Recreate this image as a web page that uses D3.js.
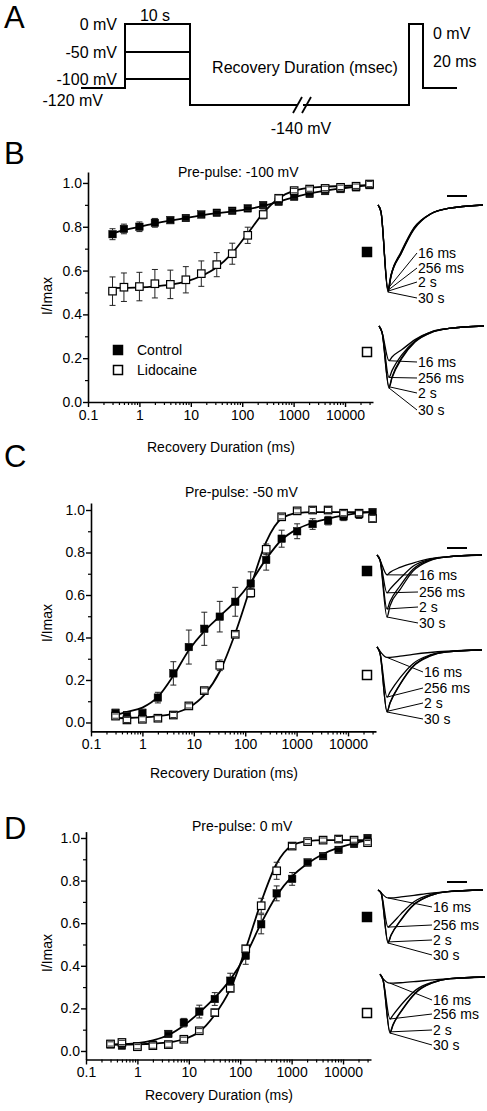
<!DOCTYPE html>
<html><head><meta charset="utf-8">
<script src="https://cdn.jsdelivr.net/npm/d3@7/dist/d3.min.js"></script>
<style>
body{margin:0;background:#fff}
svg text{font-family:"Liberation Sans",Arial,Helvetica,sans-serif;fill:#000}
</style>
</head><body>
<svg id="chart" width="487" height="1111"></svg>
<script>
// ---------------- DATA ----------------
const times = [0.3,0.5,1,2,4,8,16,32,64,128,256,512,1024,2048,4096,8192,16384,30000];
const xTickValues = [0.1,1,10,100,1000,10000];
const xTickLabels = ["0.1","1","10","100","1000","10000"];
const yTickValues = [0,0.2,0.4,0.6,0.8,1.0];
const yTickLabels = ["0.0","0.2","0.4","0.6","0.8","1.0"];
const seriesNames = ["Control","Lidocaine"];
const panelTitles = ["Pre-pulse: -100 mV","Pre-pulse: -50 mV","Pre-pulse: 0 mV"];
const xAxisTitle = "Recovery Duration (ms)";
const yAxisTitle = "I/Imax";

// Panel B (-100 mV)
const bControl    = [0.766,0.79,0.80,0.818,0.83,0.84,0.856,0.864,0.873,0.884,0.899,0.914,0.937,0.95,0.963,0.972,0.98,0.99];
const bControlErr = [0.025,0.022,0.022,0.02,0.015,0.012,0.012,0.01,0.01,0.01,0.01,0.01,0.01,0.01,0.01,0.01,0.01,0.01];
const bLido       = [0.506,0.524,0.527,0.54,0.537,0.558,0.586,0.627,0.677,0.761,0.856,0.93,0.965,0.972,0.975,0.98,0.985,0.995];
const bLidoErr    = [0.065,0.065,0.065,0.065,0.065,0.06,0.058,0.055,0.048,0.037,0.02,0.015,0.01,0.01,0.01,0.01,0.01,0.012];
const bControlFit = [0.77,0.785,0.80,0.815,0.828,0.84,0.852,0.862,0.87,0.88,0.895,0.915,0.935,0.952,0.965,0.975,0.983,0.99];
const bLidoFit    = [0.52,0.521,0.523,0.528,0.536,0.55,0.575,0.615,0.68,0.77,0.862,0.93,0.965,0.978,0.983,0.986,0.988,0.99];

// Panel C (-50 mV)
const cControl    = [0.046,0.035,0.046,0.117,0.231,0.355,0.441,0.498,0.568,0.654,0.765,0.865,0.9,0.934,0.95,0.97,0.98,0.99];
const cControlErr = [0.015,0.012,0.015,0.025,0.055,0.08,0.078,0.072,0.068,0.055,0.048,0.04,0.035,0.025,0.02,0.02,0.02,0.015];
const cLido       = [0.03,0.012,0.015,0.02,0.035,0.078,0.15,0.269,0.415,0.61,0.815,0.968,0.996,1.0,1.0,0.985,0.985,0.96];
const cLidoErr    = [0.01,0.012,0.012,0.012,0.012,0.01,0.012,0.025,0.012,0.02,0.025,0.01,0.01,0.012,0.012,0.012,0.012,0.015];
const cControlFit = [0.035,0.05,0.07,0.12,0.22,0.34,0.43,0.5,0.57,0.66,0.77,0.86,0.91,0.94,0.96,0.975,0.985,0.99];
const cLidoFit    = [0.02,0.021,0.024,0.03,0.042,0.07,0.13,0.24,0.42,0.64,0.85,0.96,0.985,0.99,0.99,0.99,0.99,0.99];

// Panel D (0 mV)
const dControl    = [0.031,0.025,0.022,0.03,0.08,0.133,0.185,0.244,0.33,0.447,0.595,0.74,0.808,0.885,0.915,0.944,0.972,1.0];
const dControlErr = [0.01,0.01,0.01,0.01,0.01,0.02,0.03,0.03,0.035,0.04,0.045,0.035,0.03,0.015,0.012,0.012,0.01,0.01];
const dLido       = [0.033,0.04,0.02,0.025,0.03,0.055,0.095,0.18,0.294,0.48,0.682,0.846,0.962,0.983,0.99,0.995,0.99,0.978];
const dLidoErr    = [0.01,0.01,0.01,0.012,0.012,0.01,0.01,0.015,0.015,0.015,0.035,0.04,0.012,0.01,0.01,0.012,0.01,0.01];
const dControlFit = [0.03,0.032,0.037,0.05,0.075,0.12,0.18,0.25,0.335,0.45,0.6,0.73,0.82,0.88,0.925,0.955,0.975,0.99];
const dLidoFit    = [0.03,0.03,0.031,0.034,0.04,0.055,0.09,0.17,0.29,0.48,0.7,0.88,0.965,0.985,0.99,0.99,0.99,0.99];

// Current trace insets (relative current, time in ms)
const traceLabels = ["16 ms","256 ms","2 s","30 s"];
const traceTimes = [0,0.3,1.0,1.3,2.3,3.6,5.3,7.0,10.5];
const bCtrlTraces = [
 [0,-0.08,-0.96,-0.8,-0.54,-0.26,-0.1,-0.04,0],
 [0,-0.08,-0.98,-0.81,-0.55,-0.27,-0.1,-0.04,0],
 [0,-0.08,-0.99,-0.82,-0.56,-0.27,-0.1,-0.04,0],
 [0,-0.08,-1,-0.82,-0.56,-0.28,-0.1,-0.04,0]];
const bLidoTraces = [
 [0,-0.1,-0.56,-0.5,-0.38,-0.22,-0.09,-0.04,0],
 [0,-0.1,-0.83,-0.72,-0.46,-0.24,-0.09,-0.04,0],
 [0,-0.1,-0.98,-0.82,-0.5,-0.25,-0.1,-0.04,0],
 [0,-0.1,-1,-0.84,-0.52,-0.26,-0.1,-0.04,0]];
const cCtrlTraces = [
 [0,-0.08,-0.32,-0.28,-0.2,-0.13,-0.06,-0.03,0],
 [0,-0.08,-0.61,-0.55,-0.38,-0.18,-0.07,-0.03,0],
 [0,-0.08,-0.87,-0.75,-0.5,-0.23,-0.08,-0.03,0],
 [0,-0.08,-1,-0.82,-0.56,-0.26,-0.09,-0.03,0]];
const cLidoTraces = [
 [0.05,-0.02,-0.12,-0.12,-0.1,-0.07,-0.04,-0.02,0],
 [0.05,-0.05,-0.76,-0.68,-0.45,-0.22,-0.08,-0.03,0],
 [0.05,-0.05,-0.99,-0.85,-0.55,-0.26,-0.09,-0.03,0],
 [0.05,-0.05,-1,-0.86,-0.56,-0.27,-0.1,-0.03,0]];
const dCtrlTraces = [
 [0,-0.05,-0.15,-0.15,-0.13,-0.1,-0.06,-0.03,0],
 [0,-0.05,-0.7,-0.65,-0.45,-0.22,-0.08,-0.03,0],
 [0,-0.05,-0.98,-0.85,-0.56,-0.27,-0.1,-0.03,0],
 [0,-0.05,-1,-0.86,-0.57,-0.28,-0.1,-0.03,0]];
const dLidoTraces = [
 [0.05,-0.03,-0.11,-0.11,-0.1,-0.08,-0.05,-0.03,0],
 [0.05,-0.05,-0.75,-0.68,-0.46,-0.23,-0.09,-0.03,0],
 [0.05,-0.05,-0.98,-0.85,-0.56,-0.27,-0.1,-0.03,0],
 [0.05,-0.05,-1,-0.86,-0.57,-0.28,-0.1,-0.03,0]];
const scaleBarMs = 2;

// Voltage protocol (panel A)
const prepulseLevels = [0,-50,-100];
const prepulseLabels = ["0 mV","-50 mV","-100 mV"];
const holdingLevel = -120, recoveryLevel = -140, testLevel = 0;
const protocolPath = [[0,-120],[1,-120],[1,0],[2,0],[2,-140],[3,-140],[3,0],[4,0],[4,-120],[5,-120]];

// ---------------- DRAW ----------------
const svg = d3.select("#chart");
const FONT = 14;

// Panel letters
[["A",28],["B",164],["C",467],["D",839]].forEach(([t,yb])=>{
  svg.append("text").attr("x",4).attr("y",yb).attr("font-size",31).text(t);
});

// ---- Panel A: protocol ----
(function(){
  const px = d3.scaleLinear().domain([0,1,2,3,4,5]).range([81,125,190,409,423,457]);
  const pv = d3.scaleLinear().domain([-140,-120,-100,-50,0]).range([105,88,79,52,24]);
  const g = svg.append("g");
  const line = d3.line().x(d=>px(d[0])).y(d=>pv(d[1]));
  g.append("path").attr("d",line(protocolPath)).attr("fill","none").attr("stroke","#000").attr("stroke-width",2);
  prepulseLevels.slice(1).forEach(v=>{
    g.append("line").attr("x1",px(1)).attr("x2",px(2)).attr("y1",pv(v)).attr("y2",pv(v)).attr("stroke","#000").attr("stroke-width",2);
  });
  // break marks
  const yb = pv(recoveryLevel);
  g.append("rect").attr("x",297).attr("y",yb-3).attr("width",6).attr("height",6).attr("fill","#fff");
  [[293,302],[302,311]].forEach(([a,b])=>{
    g.append("line").attr("x1",a).attr("y1",yb+8).attr("x2",b).attr("y2",yb-8).attr("stroke","#000").attr("stroke-width",1.8);
  });
  const fs = 16;
  prepulseLevels.forEach((v,i)=>{
    g.append("text").attr("x",117).attr("y",pv(v)+5.5).attr("text-anchor","end").attr("font-size",fs).text(prepulseLabels[i]);
  });
  g.append("text").attr("x",103).attr("y",pv(holdingLevel)+18).attr("text-anchor","end").attr("font-size",fs).text(holdingLevel+" mV");
  g.append("text").attr("x",155).attr("y",21).attr("text-anchor","middle").attr("font-size",fs).text("10 s");
  g.append("text").attr("x",305).attr("y",73).attr("text-anchor","middle").attr("font-size",fs).text("Recovery Duration (msec)");
  g.append("text").attr("x",433).attr("y",39).attr("font-size",fs).text(testLevel+" mV");
  g.append("text").attr("x",433).attr("y",67).attr("font-size",fs).text("20 ms");
  g.append("text").attr("x",301).attr("y",pv(recoveryLevel)+29).attr("text-anchor","middle").attr("font-size",fs).text(recoveryLevel+" mV");
})();

// ---- Recovery plots ----
function drawPlot(cfg){
  const g = svg.append("g");
  const x = d3.scaleLog().domain([0.1,35000]).range([cfg.x0, cfg.x0+285]);
  const y = d3.scaleLinear().domain([cfg.yMin,cfg.yMax]).range([cfg.yBot,cfg.yTop]);
  const minorX = [];
  [0.1,1,10,100,1000,10000].forEach(d=>{for(let k=2;k<=9;k++){const v=k*d; if(v<=35000) minorX.push(v);}});
  const minorY = [0.1,0.3,0.5,0.7,0.9];

  const gxm = g.append("g").attr("transform",`translate(0,${y(cfg.yMin)})`)
    .call(d3.axisBottom(x).tickValues(minorX).tickSize(3).tickFormat(""));
  const gym = g.append("g").attr("transform",`translate(${cfg.x0},0)`)
    .call(d3.axisLeft(y).tickValues(minorY).tickSize(3).tickFormat(""));
  [gxm,gym].forEach(a=>{a.select(".domain").remove(); a.selectAll("line").attr("stroke-width",1.2);});

  const gx = g.append("g").attr("transform",`translate(0,${y(cfg.yMin)})`)
    .call(d3.axisBottom(x).tickValues(xTickValues).tickFormat((d,i)=>xTickLabels[i]).tickSizeInner(5).tickSizeOuter(0).tickPadding(3));
  const gy = g.append("g").attr("transform",`translate(${cfg.x0},0)`)
    .call(d3.axisLeft(y).tickValues(yTickValues).tickFormat((d,i)=>yTickLabels[i]).tickSizeInner(5).tickSizeOuter(0).tickPadding(1));
  [gx,gy].forEach(a=>{
    a.select(".domain").attr("stroke-width",1.6);
    a.selectAll(".tick line").attr("stroke-width",1.4);
    a.selectAll("text").attr("font-size",FONT).attr("font-family",null);
  });

  g.append("text").attr("x",cfg.titleX).attr("y",cfg.titleY).attr("font-size",FONT).text(cfg.title);
  g.append("text").attr("x",cfg.x0+59).attr("y",cfg.xTitleY).attr("font-size",FONT).text(xAxisTitle);
  g.append("text").attr("transform",`translate(52,${cfg.yTitleC}) rotate(-90)`).attr("text-anchor","middle").attr("font-size",FONT).text(yAxisTitle);

  const line = d3.line().x(d=>x(d[0])).y(d=>y(d[1])).curve(d3.curveMonotoneX);
  [cfg.ctrlFit,cfg.lidoFit].forEach(f=>{
    g.append("path").attr("d",line(times.map((t,i)=>[t,f[i]]))).attr("fill","none").attr("stroke","#000").attr("stroke-width",1.8);
  });

  const ms = 7.5;
  function series(vals,errs,filled){
    times.forEach((t,i)=>{
      g.append("rect").attr("x",x(t)-ms/2).attr("y",y(vals[i])-ms/2).attr("width",ms).attr("height",ms)
        .attr("fill",filled?"#000":"#fff").attr("stroke","#000").attr("stroke-width",filled?0.5:1.2);
    });
    times.forEach((t,i)=>{
      const cx = x(t), yc=y(vals[i]), yt=y(vals[i]+errs[i]), ybm=y(vals[i]-errs[i]);
      const c = "#222";
      if (yt < yc-ms/2) g.append("line").attr("x1",cx).attr("x2",cx).attr("y1",yt).attr("y2",yc-ms/2).attr("stroke",c).attr("stroke-width",1);
      if (ybm > yc+ms/2) g.append("line").attr("x1",cx).attr("x2",cx).attr("y1",yc+ms/2).attr("y2",ybm).attr("stroke",c).attr("stroke-width",1);
      [yt,ybm].forEach(yy=>g.append("line").attr("x1",cx-3).attr("x2",cx+3).attr("y1",yy).attr("y2",yy).attr("stroke",c).attr("stroke-width",1));
    });
  }
  series(cfg.ctrl,cfg.ctrlErr,true);
  series(cfg.lido,cfg.lidoErr,false);

  if (cfg.legend){
    seriesNames.forEach((n,i)=>{
      const ly = cfg.legend[1]+i*20;
      g.append("rect").attr("x",cfg.legend[0]-4.5).attr("y",ly-4.5).attr("width",9).attr("height",9)
        .attr("fill",i===0?"#000":"#fff").attr("stroke","#000").attr("stroke-width",1.5);
      g.append("text").attr("x",cfg.legend[0]+19).attr("y",ly+5).attr("font-size",FONT).text(n);
    });
  }

  cfg.insets.forEach((ins,k)=>{
    const tx = d3.scaleLinear().domain([0,10.5]).range([ins.x0, ins.x0+105]);
    const ty = d3.scaleLinear().domain([-1,0]).range([ins.base+ins.depth, ins.base]);
    const tl = d3.line().x((d,i)=>tx(traceTimes[i])).y(d=>ty(d)).curve(d3.curveMonotoneX);
    ins.traces.forEach(tr=>{
      g.append("path").attr("d",tl(tr)).attr("fill","none").attr("stroke","#000").attr("stroke-width",1.3);
    });
    ins.traces.forEach((tr,j)=>{
      const ly = ins.labelYs[j];
      g.append("line").attr("x1",tx(traceTimes[2])).attr("y1",ty(tr[2])).attr("x2",ins.labelX-1).attr("y2",ly)
        .attr("stroke","#000").attr("stroke-width",1);
      g.append("text").attr("x",ins.labelX).attr("y",ly+5).attr("font-size",FONT).text(traceLabels[j]);
    });
    g.append("rect").attr("x",362.5).attr("y",ins.markY-4.5).attr("width",9).attr("height",9)
      .attr("fill",k===0?"#000":"#fff").attr("stroke","#000").attr("stroke-width",1.5);
    if (k===0){
      g.append("line").attr("x1",447).attr("x2",447+scaleBarMs*10).attr("y1",cfg.scaleBarY).attr("y2",cfg.scaleBarY)
        .attr("stroke","#000").attr("stroke-width",2);
    }
  });
}

drawPlot({x0:88, yMin:0, yMax:1.05, yBot:402, yTop:172, title:panelTitles[0], titleX:178, titleY:177,
  xTitleY:452, yTitleC:296, ctrl:bControl, ctrlErr:bControlErr, lido:bLido, lidoErr:bLidoErr,
  ctrlFit:bControlFit, lidoFit:bLidoFit, legend:[118,350], scaleBarY:196,
  insets:[
    {x0:378, base:205, depth:87, traces:bCtrlTraces, labelX:418, labelYs:[253,268,282,298], markY:252},
    {x0:379, base:326, depth:62, traces:bLidoTraces, labelX:418, labelYs:[362,378,393,410], markY:352}
  ]});

drawPlot({x0:91, yMin:-0.042, yMax:1.033, yBot:731.4, yTop:503, title:panelTitles[1], titleX:185, titleY:497,
  xTitleY:778, yTitleC:623, ctrl:cControl, ctrlErr:cControlErr, lido:cLido, lidoErr:cLidoErr,
  ctrlFit:cControlFit, lidoFit:cLidoFit, legend:null, scaleBarY:548,
  insets:[
    {x0:377, base:555, depth:62, traces:cCtrlTraces, labelX:419, labelYs:[575,592,607,623], markY:571},
    {x0:377, base:650, depth:62, traces:cLidoTraces, labelX:424, labelYs:[672,688,703,719], markY:675}
  ]});

drawPlot({x0:86, yMin:-0.04, yMax:1.03, yBot:1059.5, yTop:831.6, title:panelTitles[2], titleX:192, titleY:831,
  xTitleY:1100, yTitleC:953, ctrl:dControl, ctrlErr:dControlErr, lido:dLido, lidoErr:dLidoErr,
  ctrlFit:dControlFit, lidoFit:dLidoFit, legend:null, scaleBarY:882,
  insets:[
    {x0:378, base:890, depth:53, traces:dCtrlTraces, labelX:433, labelYs:[907,925,940,955], markY:917},
    {x0:380, base:977, depth:56, traces:dLidoTraces, labelX:433, labelYs:[1000,1014,1030,1045], markY:1013}
  ]});
</script>
</body></html>
